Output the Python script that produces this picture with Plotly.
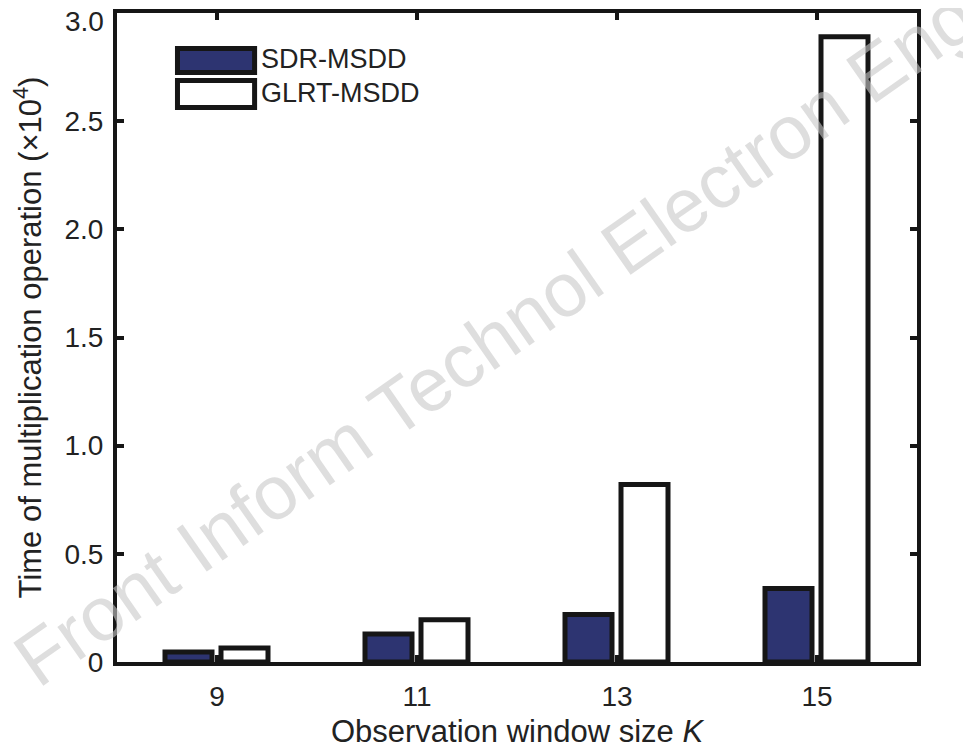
import plotly.graph_objects as go

K = [9, 11, 13, 15]
series_names = ["SDR-MSDD", "GLRT-MSDD"]
sdr_msdd = [0.046, 0.13, 0.22, 0.34]
glrt_msdd = [0.065, 0.195, 0.82, 2.89]
y_tickvals = [0, 0.5, 1.0, 1.5, 2.0, 2.5, 3.0]
y_ticktext = ["0", "0.5", "1.0", "1.5", "2.0", "2.5", "3.0"]

NAVY = "#2d3471"
BLACK = "#161616"
FONT = "Liberation Sans, Arial, Helvetica, sans-serif"

fig = go.Figure()
fig.add_trace(go.Bar(x=K, y=sdr_msdd, name=series_names[0], width=0.47, offset=-0.52,
                     marker=dict(color=NAVY, line=dict(color=BLACK, width=5)),
                     showlegend=False))
fig.add_trace(go.Bar(x=K, y=glrt_msdd, name=series_names[1], width=0.47, offset=0.04,
                     marker=dict(color="white", line=dict(color=BLACK, width=5)),
                     showlegend=False))

# legend drawn as layout shapes + text
leg = [(series_names[0], NAVY, 0.9453, 0.9083, 0.929),
       (series_names[1], "white", 0.896, 0.8544, 0.8767)]
for name, col, y1, y0, ty in leg:
    fig.add_shape(type="rect", xref="paper", yref="paper", x0=0.0756, x1=0.172, y0=y0, y1=y1,
                  fillcolor=col, line=dict(color=BLACK, width=5))
    fig.add_annotation(xref="paper", yref="paper", x=0.1775, y=ty, text=name, showarrow=False,
                       xanchor="left", yanchor="middle", font=dict(size=27, color="#222", family=FONT))

# top tick label: placed just below the top edge as in the reference
fig.add_annotation(xref="paper", yref="y", x=0, y=y_tickvals[-1], text=y_ticktext[-1],
                   showarrow=False, xanchor="right", yanchor="middle", xshift=-11, yshift=-8,
                   height=26, valign="middle",
                   font=dict(size=28, color="#222", family=FONT))

# watermark
fig.add_annotation(xref="paper", yref="paper", x=0.472, y=0.50,
                   text="Front Inform Technol Electron Eng", showarrow=False, textangle=-35,
                   font=dict(size=76, color="rgba(200,200,200,0.6)", family=FONT))

# page body has an 8px margin: shrink the figure so the plot area lands where the reference has it
fig.update_layout(
    width=963, height=741,
    margin=dict(l=109, r=54, t=5, b=87),
    paper_bgcolor="white", plot_bgcolor="white",
    font=dict(family=FONT, size=28, color="#222"),
    barmode="overlay",
)
fig.update_xaxes(range=[8, 16], tickvals=K, ticktext=[str(k) for k in K],
                 showline=True, linecolor=BLACK, linewidth=4, mirror="ticks",
                 ticks="inside", ticklen=7, tickwidth=4, tickcolor=BLACK,
                 showgrid=False, zeroline=False, ticklabelstandoff=6, automargin=False,
                 ticklabeloverflow="allow",
                 title=dict(text="Observation window size <i>K</i>", font=dict(size=31), standoff=14))
fig.update_yaxes(range=[0, 3.0], tickvals=y_tickvals[:-1], ticktext=y_ticktext[:-1],
                 showline=True, linecolor=BLACK, linewidth=4, mirror="ticks",
                 ticks="inside", ticklen=7, tickwidth=4, tickcolor=BLACK,
                 showgrid=False, zeroline=False, ticklabelstandoff=4, automargin=False,
                 ticklabeloverflow="allow",
                 title=dict(text="Time of multiplication operation (×10<sup>4</sup>)",
                            font=dict(size=31), standoff=18))

fig.write_html("out.html")
